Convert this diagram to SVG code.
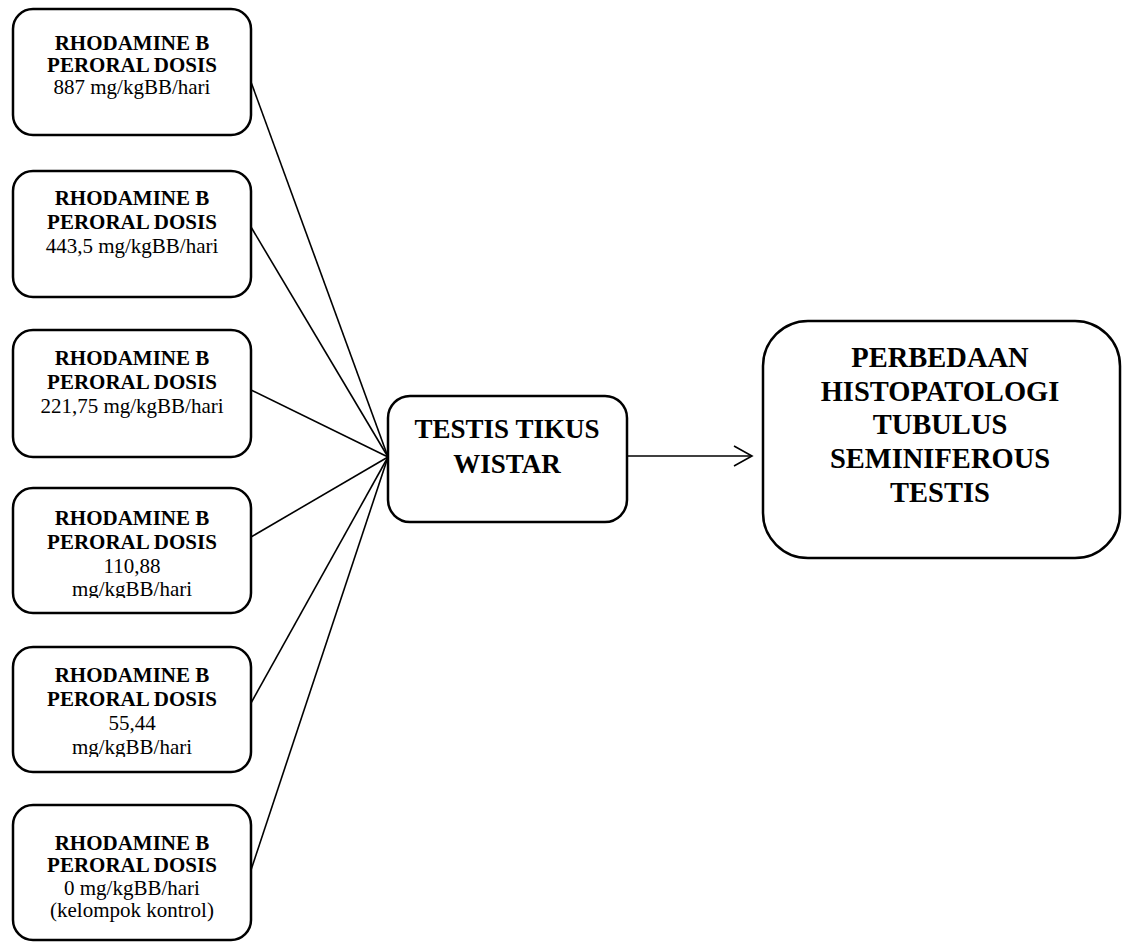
<svg xmlns="http://www.w3.org/2000/svg" width="1123" height="942" viewBox="0 0 1123 942">
<style>
.box{fill:#fff;stroke:#000;stroke-width:2.5}
.b{font-family:"Liberation Serif","Times New Roman",serif;font-weight:bold;font-size:21px;text-anchor:middle;fill:#000}
.r{font-family:"Liberation Serif","Times New Roman",serif;font-size:21px;text-anchor:middle;fill:#000}
.bb{font-family:"Liberation Serif","Times New Roman",serif;font-weight:bold;text-anchor:middle;fill:#000}
.con{stroke:#000;stroke-width:1.6;fill:none}
</style>
<defs>
<clipPath id="c4"><rect x="13" y="488" width="238" height="110"/></clipPath>
<clipPath id="c5"><rect x="13" y="647" width="238" height="110"/></clipPath>
</defs>
<rect width="1123" height="942" fill="#fff"/>
<g id="connectors">
<line class="con" x1="251" y1="82" x2="388" y2="457"/>
<line class="con" x1="251" y1="227" x2="388" y2="457"/>
<line class="con" x1="251" y1="390" x2="388" y2="457"/>
<line class="con" x1="251" y1="537" x2="388" y2="457"/>
<line class="con" x1="251" y1="703" x2="388" y2="457"/>
<line class="con" x1="251" y1="870" x2="388" y2="457"/>
<line class="con" x1="627" y1="456" x2="751" y2="456" stroke-width="2"/>
<polyline class="con" points="734,446 752,456 734,466" stroke-width="2"/>
</g>
<g id="node1">
<rect class="box" x="13" y="9" width="238" height="126" rx="20"/>
<text class="b" x="132" y="50">RHODAMINE B</text>
<text class="b" x="132" y="72">PERORAL DOSIS</text>
<text class="r" x="132" y="94">887 mg/kgBB/hari</text>
</g>
<g id="node2">
<rect class="box" x="13" y="171" width="238" height="126" rx="20"/>
<text class="b" x="132" y="205">RHODAMINE B</text>
<text class="b" x="132" y="229">PERORAL DOSIS</text>
<text class="r" x="132" y="253">443,5 mg/kgBB/hari</text>
</g>
<g id="node3">
<rect class="box" x="13" y="330" width="238" height="127" rx="20"/>
<text class="b" x="132" y="365">RHODAMINE B</text>
<text class="b" x="132" y="389">PERORAL DOSIS</text>
<text class="r" x="132" y="413">221,75 mg/kgBB/hari</text>
</g>
<g id="node4">
<rect class="box" x="13" y="488" width="238" height="125" rx="20"/>
<g clip-path="url(#c4)">
<text class="b" x="132" y="525">RHODAMINE B</text>
<text class="b" x="132" y="549">PERORAL DOSIS</text>
<text class="r" x="132" y="573">110,88</text>
<text class="r" x="132" y="596">mg/kgBB/hari</text>
</g>
</g>
<g id="node5">
<rect class="box" x="13" y="647" width="238" height="125" rx="20"/>
<g clip-path="url(#c5)">
<text class="b" x="132" y="682">RHODAMINE B</text>
<text class="b" x="132" y="706">PERORAL DOSIS</text>
<text class="r" x="132" y="730">55,44</text>
<text class="r" x="132" y="754">mg/kgBB/hari</text>
</g>
</g>
<g id="node6">
<rect class="box" x="13" y="805" width="238" height="135" rx="20"/>
<text class="b" x="132" y="850">RHODAMINE B</text>
<text class="b" x="132" y="872">PERORAL DOSIS</text>
<text class="r" x="132" y="895">0 mg/kgBB/hari</text>
<text class="r" x="132" y="917">(kelompok kontrol)</text>
</g>
<g id="node7">
<rect class="box" x="388" y="396" width="239" height="126" rx="22"/>
<text class="bb" x="507" y="438" font-size="27">TESTIS TIKUS</text>
<text class="bb" x="507" y="473" font-size="27">WISTAR</text>
</g>
<g id="node8">
<rect class="box" x="763" y="321" width="357" height="237" rx="45"/>
<text class="bb" x="940" y="367" font-size="28.5">PERBEDAAN</text>
<text class="bb" x="940" y="401" font-size="28.5">HISTOPATOLOGI</text>
<text class="bb" x="940" y="434" font-size="28.5">TUBULUS</text>
<text class="bb" x="940" y="468" font-size="28.5">SEMINIFEROUS</text>
<text class="bb" x="940" y="502" font-size="28.5">TESTIS</text>
</g>
</svg>
